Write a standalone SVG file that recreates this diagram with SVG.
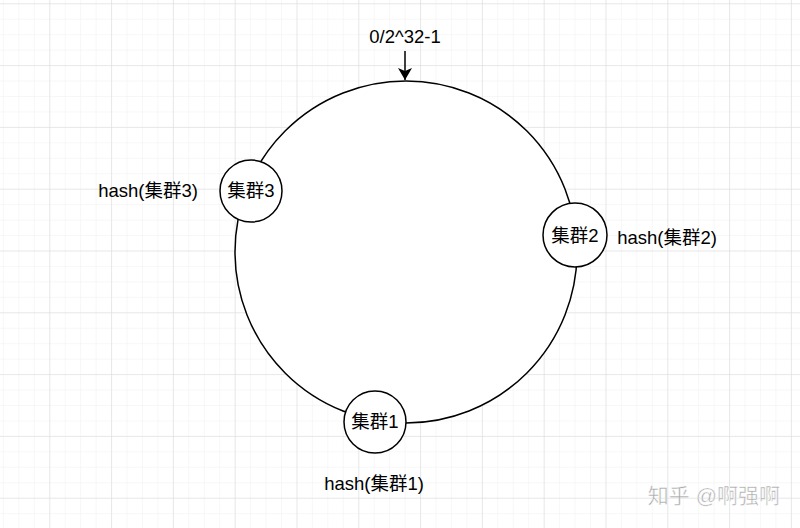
<svg xmlns="http://www.w3.org/2000/svg" width="800" height="528" viewBox="0 0 800 528">
  <defs>
    <pattern id="minor" patternUnits="userSpaceOnUse" x="2.9" y="3.3" width="15.45" height="15.45">
      <path d="M0 0 H15.45 M0 0 V15.45" fill="none" stroke="#f0f0f0" stroke-width="1"/>
    </pattern>
    <pattern id="major" patternUnits="userSpaceOnUse" x="49.3" y="3.3" width="61.8" height="61.8">
      <path d="M0 0 H61.8 M0 0 V61.8" fill="none" stroke="#dadada" stroke-width="1"/>
    </pattern>
    <marker id="arrow" viewBox="0 0 12 14" refX="12" refY="7" markerWidth="12" markerHeight="14" markerUnits="userSpaceOnUse" orient="auto">
      <path d="M0 0 L12 7 L0 14 L3 7 Z" fill="#000"/>
    </marker>
  </defs>
  <style>
    text { font-family: "Liberation Sans", "Noto Sans CJK SC", sans-serif; font-size: 18.5px; fill: #000; }
    .node { fill: #fff; stroke: #000; stroke-width: 1.5; }
    .ring { fill: #fff; stroke: #000; stroke-width: 1.5; }
    .wm { font-size: 21px; fill: #a8a8a8; stroke: #fff; stroke-width: 0.5; }
  </style>
  <rect width="800" height="528" fill="#fff"/>
  <rect width="800" height="528" fill="url(#minor)"/>
  <rect width="800" height="528" fill="url(#major)"/>

  <g id="ring">
    <circle class="ring" cx="406" cy="252" r="171"/>
  </g>

  <g id="connectors">
    <line x1="405" y1="51" x2="405" y2="80" stroke="#000" stroke-width="1.5" marker-end="url(#arrow)"/>
  </g>

  <g id="label-top">
    <text x="405" y="43" text-anchor="middle">0/2^32-1</text>
  </g>

  <g id="node-cluster3">
    <circle class="node" cx="251" cy="191" r="31"/>
    <text x="251" y="197" text-anchor="middle">集群3</text>
  </g>
  <g id="node-cluster2">
    <circle class="node" cx="575" cy="235" r="32"/>
    <text x="575" y="242" text-anchor="middle">集群2</text>
  </g>
  <g id="node-cluster1">
    <circle class="node" cx="375" cy="422" r="31"/>
    <text x="375" y="428" text-anchor="middle">集群1</text>
  </g>

  <g id="hash-labels">
    <text x="148" y="197" text-anchor="middle">hash(集群3)</text>
    <text x="667" y="244" text-anchor="middle">hash(集群2)</text>
    <text x="374" y="490" text-anchor="middle">hash(集群1)</text>
  </g>

  <g id="watermark">
    <text class="wm" x="780" y="503" text-anchor="end">知乎 @啊强啊</text>
  </g>
</svg>
